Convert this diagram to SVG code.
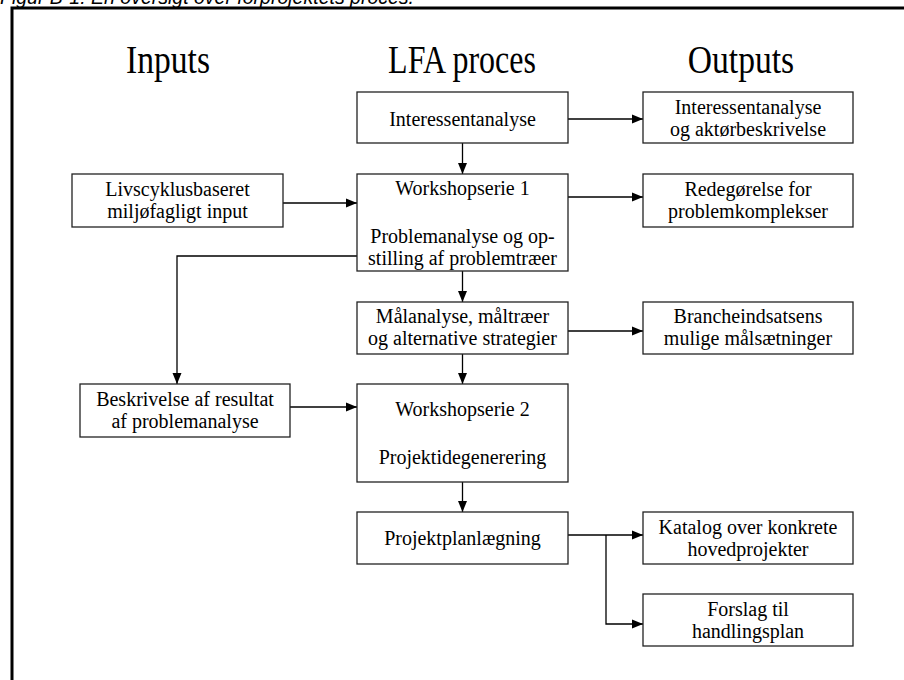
<svg xmlns="http://www.w3.org/2000/svg" width="904" height="680" viewBox="0 0 904 680">
  <style>
    .box { fill: #ffffff; stroke: #222222; stroke-width: 1.3; }
    .lbl { font-family: "Liberation Serif", "Times New Roman", serif; font-size: 20px; fill: #000000; text-anchor: middle; }
    .head { font-family: "Liberation Serif", "Times New Roman", serif; font-size: 32px; fill: #000000; text-anchor: middle; }
    .cap { font-family: "Liberation Sans", Arial, sans-serif; font-size: 19.5px; font-style: italic; fill: #000000; }
    .wire { fill: none; stroke: #000000; stroke-width: 1.3; }
  </style>
  <defs>
    <marker id="arrow" markerUnits="userSpaceOnUse" markerWidth="12" markerHeight="10" refX="11" refY="5" orient="auto">
      <path d="M0,0.5 L11,5 L0,9.5 Z" fill="#000000"/>
    </marker>
  </defs>

  <rect x="0" y="0" width="904" height="680" fill="#ffffff"/>

  <!-- caption, running off the top edge of the page -->
  <text class="cap" x="0" y="4">Figur B-1: En oversigt over forprojektets proces.</text>

  <!-- outer frame -->
  <path d="M12,680 V8 H904" fill="none" stroke="#000000" stroke-width="3"/>

  <!-- column headings (tall, narrow serif) -->
  <g id="headings">
    <text class="head" transform="translate(168,73) scale(1.05,1.22)">Inputs</text>
    <text class="head" transform="translate(462,73) scale(1.0,1.22)">LFA proces</text>
    <text class="head" transform="translate(741,73) scale(1.05,1.22)">Outputs</text>
  </g>

  <!-- connectors -->
  <g id="connectors">
    <line class="wire" x1="568" y1="119" x2="643" y2="119" marker-end="url(#arrow)"/>
    <line class="wire" x1="462.5" y1="143" x2="462.5" y2="174" marker-end="url(#arrow)"/>
    <line class="wire" x1="283" y1="203" x2="357" y2="203" marker-end="url(#arrow)"/>
    <line class="wire" x1="568" y1="197" x2="643" y2="197" marker-end="url(#arrow)"/>
    <path class="wire" d="M357,256 H177 V384" marker-end="url(#arrow)"/>
    <line class="wire" x1="462.5" y1="271" x2="462.5" y2="302" marker-end="url(#arrow)"/>
    <line class="wire" x1="568" y1="331" x2="643" y2="331" marker-end="url(#arrow)"/>
    <line class="wire" x1="462.5" y1="354" x2="462.5" y2="384" marker-end="url(#arrow)"/>
    <line class="wire" x1="290" y1="407" x2="357" y2="407" marker-end="url(#arrow)"/>
    <line class="wire" x1="462.5" y1="482" x2="462.5" y2="512" marker-end="url(#arrow)"/>
    <line class="wire" x1="568" y1="535" x2="643" y2="535" marker-end="url(#arrow)"/>
    <path class="wire" d="M606,535 V624 H643" marker-end="url(#arrow)"/>
  </g>

  <!-- LFA process column -->
  <g id="interessentanalyse">
    <rect class="box" x="357" y="92" width="211" height="51"/>
    <text class="lbl" x="462.5" y="126">Interessentanalyse</text>
  </g>
  <g id="workshopserie1">
    <rect class="box" x="357" y="174" width="211" height="97"/>
    <text class="lbl" x="462.5" y="195">Workshopserie 1</text>
    <text class="lbl" x="462.5" y="243">Problemanalyse og op-</text>
    <text class="lbl" x="462.5" y="265">stilling af problemtræer</text>
  </g>
  <g id="maalanalyse">
    <rect class="box" x="357" y="302" width="211" height="52"/>
    <text class="lbl" x="462.5" y="323">Målanalyse, måltræer</text>
    <text class="lbl" x="462.5" y="345">og alternative strategier</text>
  </g>
  <g id="workshopserie2">
    <rect class="box" x="357" y="384" width="211" height="98"/>
    <text class="lbl" x="462.5" y="416">Workshopserie 2</text>
    <text class="lbl" x="462.5" y="464">Projektidegenerering</text>
  </g>
  <g id="projektplanlaegning">
    <rect class="box" x="357" y="512" width="211" height="52"/>
    <text class="lbl" x="462.5" y="545">Projektplanlægning</text>
  </g>

  <!-- inputs column -->
  <g id="livscyklus">
    <rect class="box" x="72" y="174" width="211" height="53"/>
    <text class="lbl" x="177.5" y="196">Livscyklusbaseret</text>
    <text class="lbl" x="177.5" y="218">miljøfagligt input</text>
  </g>
  <g id="beskrivelse">
    <rect class="box" x="80" y="384" width="210" height="53"/>
    <text class="lbl" x="185" y="406">Beskrivelse af resultat</text>
    <text class="lbl" x="185" y="428">af problemanalyse</text>
  </g>

  <!-- outputs column -->
  <g id="out-interessent">
    <rect class="box" x="643" y="92" width="210" height="51"/>
    <text class="lbl" x="748" y="114">Interessentanalyse</text>
    <text class="lbl" x="748" y="136">og aktørbeskrivelse</text>
  </g>
  <g id="out-redegoerelse">
    <rect class="box" x="643" y="174" width="210" height="53"/>
    <text class="lbl" x="748" y="196">Redegørelse for</text>
    <text class="lbl" x="748" y="218">problemkomplekser</text>
  </g>
  <g id="out-branche">
    <rect class="box" x="643" y="302" width="210" height="52"/>
    <text class="lbl" x="748" y="323">Brancheindsatsens</text>
    <text class="lbl" x="748" y="345">mulige målsætninger</text>
  </g>
  <g id="out-katalog">
    <rect class="box" x="643" y="512" width="210" height="52"/>
    <text class="lbl" x="748" y="534">Katalog over konkrete</text>
    <text class="lbl" x="748" y="556">hovedprojekter</text>
  </g>
  <g id="out-forslag">
    <rect class="box" x="643" y="594" width="210" height="52"/>
    <text class="lbl" x="748" y="616">Forslag til</text>
    <text class="lbl" x="748" y="638">handlingsplan</text>
  </g>
</svg>
